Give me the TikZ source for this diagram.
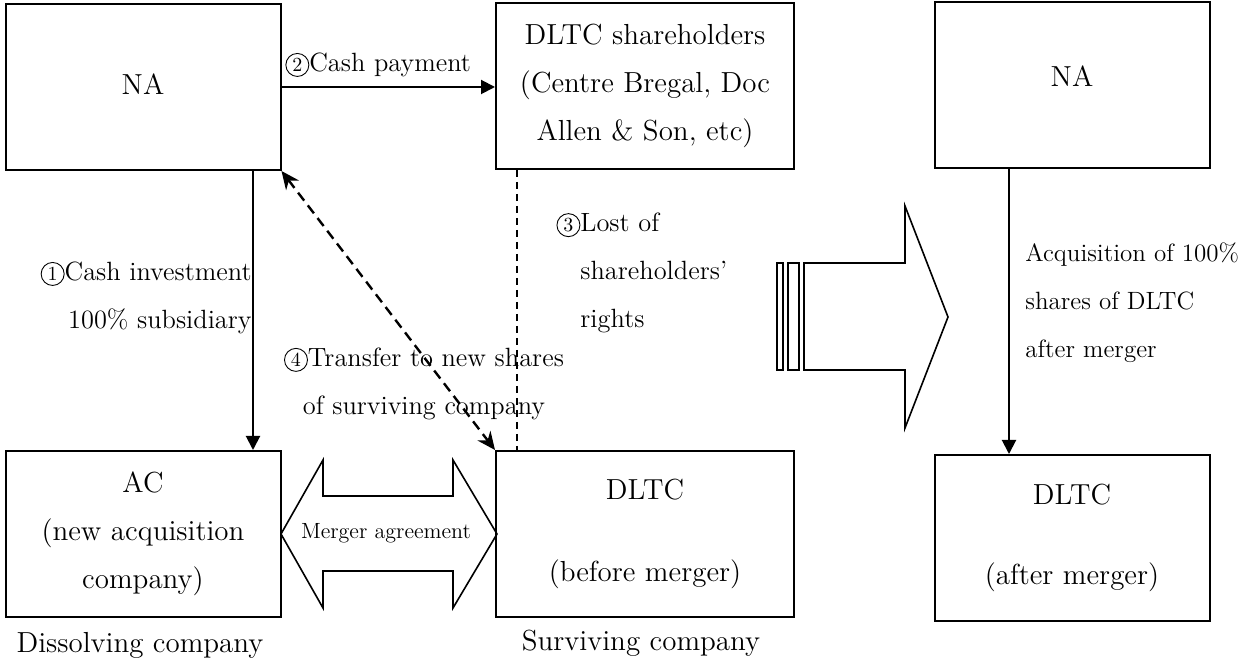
\documentclass[tikz,border=0pt]{standalone}
\usepackage{fontspec}
\usetikzlibrary{arrows.meta}
\newcommand{\circnum}[1]{\tikz[baseline=(d.base)]\node[draw,circle,line width=0.45pt,inner sep=0pt,minimum size=11.5pt,font=\fontsize{10}{10}\selectfont](d){#1};}

\begin{document}
\begin{tikzpicture}[x=0.5pt,y=-0.5pt,
		font=\fontsize{14.5}{24}\selectfont,
		box/.style={draw,line width=1pt,minimum width=137.5pt,minimum height=83pt,inner sep=0pt,align=center},
		widebox/.style={box,minimum width=149pt},
		conn/.style={line width=1pt,-{Triangle[length=7pt,width=7pt]}},
		bigarrow/.style={draw,line width=0.8pt,line join=miter},
		txt/.style={inner sep=0pt,align=left,font=\fontsize{13.2}{24}\selectfont}]
		\useasboundingbox (0,0) rectangle (1243,662);
		%cajas de arriba
		\node[box] (NAl) at (143,87) {\raisebox{2.5pt}{NA}};
		\node[widebox] (SH) at (645,86) {DLTC shareholders\\(Centre Bregal, Doc\\Allen \& Son, etc)};
		\node[box] (NAr) at (1072,85) {\raisebox{9pt}{NA}};
		%cajas de abajo
		\node[box] (AC) at (143,534) {AC\\(new acquisition\\company)};
		\node[widebox] (DLb) at (645,534) {DLTC\\[17pt](before merger)};
		\node[box] (DLa) at (1072,538) {DLTC\\[16pt](after merger)};
		\node (disl) at (140,645) {Dissolving company};
		\node (surl) at (641,643) {Surviving company};
		%flechas
		\coordinate (cx) at (253,0);
		\coordinate (lx) at (517,0);
		\coordinate (rx) at (1009,0);
		\draw[conn] (NAl.east) -- (NAl.east -| SH.west);
		\draw[conn] (NAl.south -| cx) -- (AC.north -| cx);
		\draw[conn] (NAr.south -| rx) -- (DLa.north -| rx);
		\draw[line width=1.2pt, dash pattern=on 5pt off 3pt, {Stealth[length=9pt,width=8pt]}-{Stealth[length=9pt,width=8pt]}] (NAl.south east) -- (DLb.north west);
		\draw[line width=0.8pt, dash pattern=on 3.5pt off 2.5pt] (SH.south -| lx) -- (DLb.north -| lx);
		\node[txt,anchor=west] (payl) at (285,65) {\circnum{2}Cash payment};
		\node[txt,anchor=east,align=right] (invl) at (252,298) {\circnum{1}Cash investment\\100\% subsidiary};
		\node[txt,align=center] (trl) at (424,384) {\circnum{4}Transfer to new shares\\of surviving company};
		\node[txt,anchor=west] (lostl) at (580,273) {\llap{\circnum{3}}Lost of\\shareholders'\\rights};
		\node[txt,anchor=west,font=\fontsize{12.5}{24}\selectfont] (acql) at (1025,303) {Acquisition of 100\%\\shares of DLTC\\after merger};
		%flecha doble
		\draw[bigarrow] (281,534) -- (323,460) -- (323,496) -- (453,496) -- (453,460) -- (497,534) -- (453,608) -- (453,571) -- (323,571) -- (323,608) -- cycle;
		\node[font=\fontsize{11}{13}\selectfont] (mergl) at (386,533) {Merger agreement};
		%flecha grande
		\draw[bigarrow] (777,263) rectangle (783,370);
		\draw[bigarrow] (788,263) rectangle (799,370);
		\draw[bigarrow] (804,263) -- (905,263) -- (905,206) -- (948,317) -- (905,428) -- (905,370) -- (804,370) -- cycle;
	\end{tikzpicture}
\end{document}
